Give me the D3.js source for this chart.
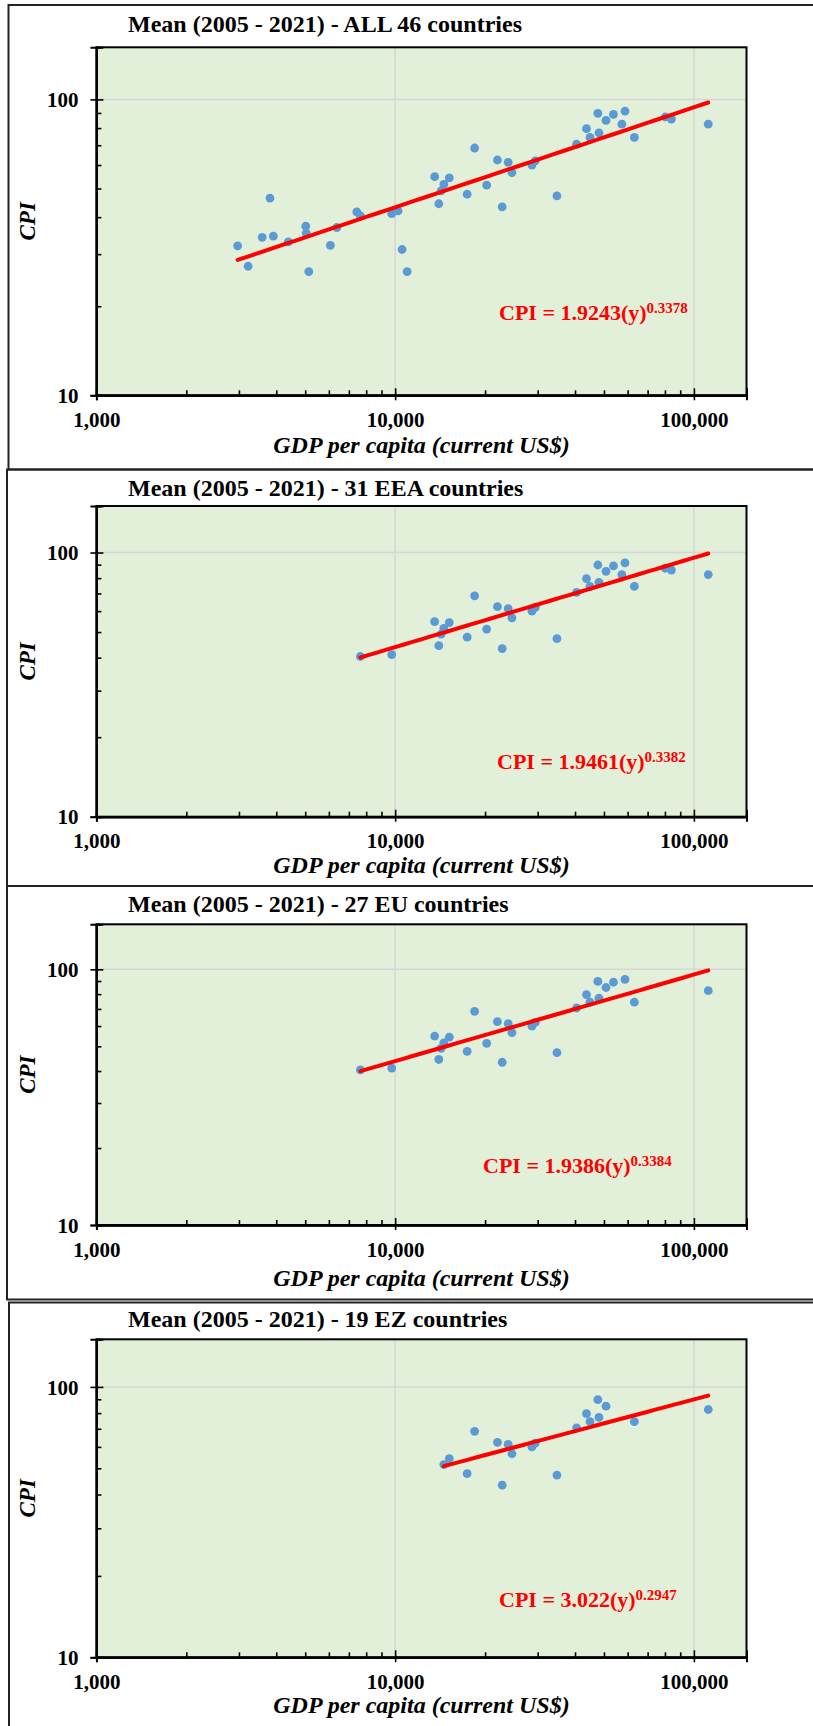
<!DOCTYPE html>
<html>
<head>
<meta charset="utf-8">
<script src="https://cdn.jsdelivr.net/npm/d3@7"></script>
<style>
  body { margin: 0; background: #fff; }
  svg { display: block; }
  text { font-family: "Liberation Serif", "Times New Roman", serif; font-weight: bold; fill: #000; }
</style>
</head>
<body>
<svg width="813" height="1726"></svg>
<script>
// mean 2005-2021 values, one entry per country
var gdp = [2970, 3220, 3590, 3810, 3910, 4390, 5020, 5040, 5140, 6070,
           6380, 7440, 7650, 9740, 10230, 10550, 10970, 13560, 14000, 14250,
           14550, 15180, 17420, 18450, 20250, 22000, 22820, 23900, 24600, 28700,
           29450, 34800, 40500, 43700, 44900, 47700, 48100, 50800, 53800, 57400,
           58800, 63200, 80200, 84100, 111700];
var cpi = [32.0, 27.3, 34.2, 46.4, 34.5, 33.0, 37.3, 35.3, 26.2, 32.1,
           36.9, 41.7, 40.4, 41.1, 42.0, 31.1, 26.2, 54.8, 44.4, 49.1,
           51.6, 54.3, 47.8, 68.5, 51.3, 62.4, 43.3, 61.3, 56.6, 60.0,
           62.0, 47.2, 70.6, 79.6, 74.4, 89.7, 77.1, 84.9, 89.0, 82.5,
           91.3, 74.4, 87.2, 85.8, 82.5];
// 0 = other, 1 = EEA only, 2 = EU outside euro, 3 = euro zone
var group = [0, 0, 0, 0, 0, 0, 0, 0, 0, 0,
             0, 0, 2, 2, 0, 0, 0, 2, 2, 2,
             3, 3, 3, 3, 2, 3, 3, 3, 3, 3,
             3, 3, 3, 3, 3, 3, 3, 3, 2, 1,
             2, 3, 1, 1, 3];

var titles = ["Mean (2005 - 2021) - ALL 46 countries",
              "Mean (2005 - 2021) - 31 EEA countries",
              "Mean (2005 - 2021) - 27 EU countries",
              "Mean (2005 - 2021) - 19 EZ countries"];
var minGroup = [0, 1, 2, 3];
var fitA = [1.9243, 1.9461, 1.9386, 3.022];
var fitB = [0.3378, 0.3382, 0.3384, 0.2947];
var xTicks = [1000, 10000, 100000];
var yTicks = [10, 100];
var xMinor = [2000, 3000, 4000, 5000, 6000, 7000, 8000, 9000,
              20000, 30000, 40000, 50000, 60000, 70000, 80000, 90000];
var yMinor = [20, 30, 40, 50, 60, 70, 80, 90];

// panel placement on the page
var layout = [
  {fx: 8.5, fy: 5, fb: 469.5, title: 31.7, top: 47.3, bottom: 395.3, tick: 426.7, xlab: 452.7, eq: [499, 320]},
  {fx: 7, fy: 469.5, fb: 886, title: 496, top: 506, bottom: 816.7, tick: 848.3, xlab: 872.7, eq: [497, 769]},
  {fx: 7, fy: 886, fb: 1299.5, title: 911.7, top: 924.3, bottom: 1225, tick: 1256.7, xlab: 1286, eq: [483, 1172.5]},
  {fx: 9, fy: 1302.5, fb: 1740, title: 1327, top: 1339.3, bottom: 1657.3, tick: 1689.3, xlab: 1712.7, eq: [499, 1607]}
];

var svg = d3.select("svg");
var left = 96.4, right = 746.5;

var x = d3.scaleLog().domain([1000, 150000]).range([left, right]);

layout.forEach(function (p, i) {
  // panel frame
  svg.append("rect")
    .attr("x", p.fx).attr("y", p.fy)
    .attr("width", 840 - p.fx).attr("height", p.fb - p.fy)
    .attr("fill", "none").attr("stroke", "#222").attr("stroke-width", 2);

  var y = d3.scaleLog().domain([10, 150]).range([p.bottom, p.top]);

  svg.append("rect")
    .attr("x", left).attr("y", p.top)
    .attr("width", right - left).attr("height", p.bottom - p.top)
    .attr("fill", "#e2efd9");

  // grid
  svg.append("g").selectAll("line").data(xTicks.slice(1)).enter().append("line")
    .attr("x1", function (d) { return x(d); }).attr("x2", function (d) { return x(d); })
    .attr("y1", p.top).attr("y2", p.bottom)
    .attr("stroke", "#d6d6d6").attr("stroke-width", 1.5);
  svg.append("g").selectAll("line").data(yTicks.slice(1)).enter().append("line")
    .attr("x1", left).attr("x2", right)
    .attr("y1", function (d) { return y(d); }).attr("y2", function (d) { return y(d); })
    .attr("stroke", "#d6d6d6").attr("stroke-width", 1.5);

  svg.append("rect")
    .attr("x", left).attr("y", p.top)
    .attr("width", right - left).attr("height", p.bottom - p.top)
    .attr("fill", "none").attr("stroke", "#000").attr("stroke-width", 2);

  // axes
  var gx = svg.append("g").attr("transform", "translate(0," + p.bottom + ")");
  gx.call(d3.axisBottom(x).tickValues(xTicks).tickSize(5).tickFormat(d3.format(",")));
  gx.append("g").call(d3.axisBottom(x).tickValues(xTicks).tickSize(-7).tickFormat(""));
  gx.append("g").call(d3.axisBottom(x).tickValues(xMinor).tickSize(-5).tickFormat(""));
  gx.selectAll("text").attr("y", p.tick - p.bottom).attr("dy", null)
    .style("font-size", "21px").style("font-family", "Liberation Serif");

  var gy = svg.append("g").attr("transform", "translate(" + left + ",0)");
  gy.call(d3.axisLeft(y).tickValues(yTicks).tickSize(6).tickFormat(d3.format("d")));
  gy.append("g").call(d3.axisLeft(y).tickValues(yTicks).tickSize(-7).tickFormat(""));
  gy.append("g").call(d3.axisLeft(y).tickValues(yMinor).tickSize(-5).tickFormat(""));
  gy.selectAll("text").attr("x", -18).attr("dy", "0.34em")
    .style("font-size", "21px").style("font-family", "Liberation Serif");

  svg.selectAll(".domain").attr("stroke", "#000").attr("stroke-width", 2);
  svg.selectAll(".tick line").attr("stroke", "#000").attr("stroke-width", 1.6);

  // points in this group
  var idx = d3.range(gdp.length).filter(function (k) { return group[k] >= minGroup[i]; });

  svg.append("g").selectAll("circle").data(idx).enter().append("circle")
    .attr("cx", function (k) { return x(gdp[k]); })
    .attr("cy", function (k) { return y(cpi[k]); })
    .attr("r", 4.4)
    .attr("fill", "#5b9bd5");

  // power trend line
  var ext = d3.extent(idx, function (k) { return gdp[k]; });
  var fit = d3.range(0, 41).map(function (t) {
    var v = ext[0] * Math.pow(ext[1] / ext[0], t / 40);
    return [v, fitA[i] * Math.pow(v, fitB[i])];
  });
  svg.append("path")
    .datum(fit)
    .attr("d", d3.line().x(function (d) { return x(d[0]); }).y(function (d) { return y(d[1]); }))
    .attr("fill", "none").attr("stroke", "#ff0000").attr("stroke-width", 4)
    .attr("stroke-linecap", "round");

  var eq = svg.append("text")
    .attr("x", p.eq[0]).attr("y", p.eq[1])
    .style("font-size", "22px").style("fill", "#ff0000");
  eq.append("tspan").text("CPI = " + fitA[i] + "(y)");
  eq.append("tspan").attr("dy", -7).style("font-size", "15px").text(fitB[i]);

  // titles
  svg.append("text")
    .attr("x", 128).attr("y", p.title)
    .style("font-size", "24px")
    .text(titles[i]);

  svg.append("text")
    .attr("x", (left + right) / 2).attr("y", p.xlab)
    .attr("text-anchor", "middle")
    .style("font-size", "24px").style("font-style", "italic")
    .text("GDP per capita (current US$)");

  svg.append("text")
    .attr("transform", "translate(35," + (p.top + p.bottom) / 2 + ") rotate(-90)")
    .attr("text-anchor", "middle")
    .style("font-size", "23px").style("font-style", "italic")
    .text("CPI");
});
</script>
</body>
</html>
